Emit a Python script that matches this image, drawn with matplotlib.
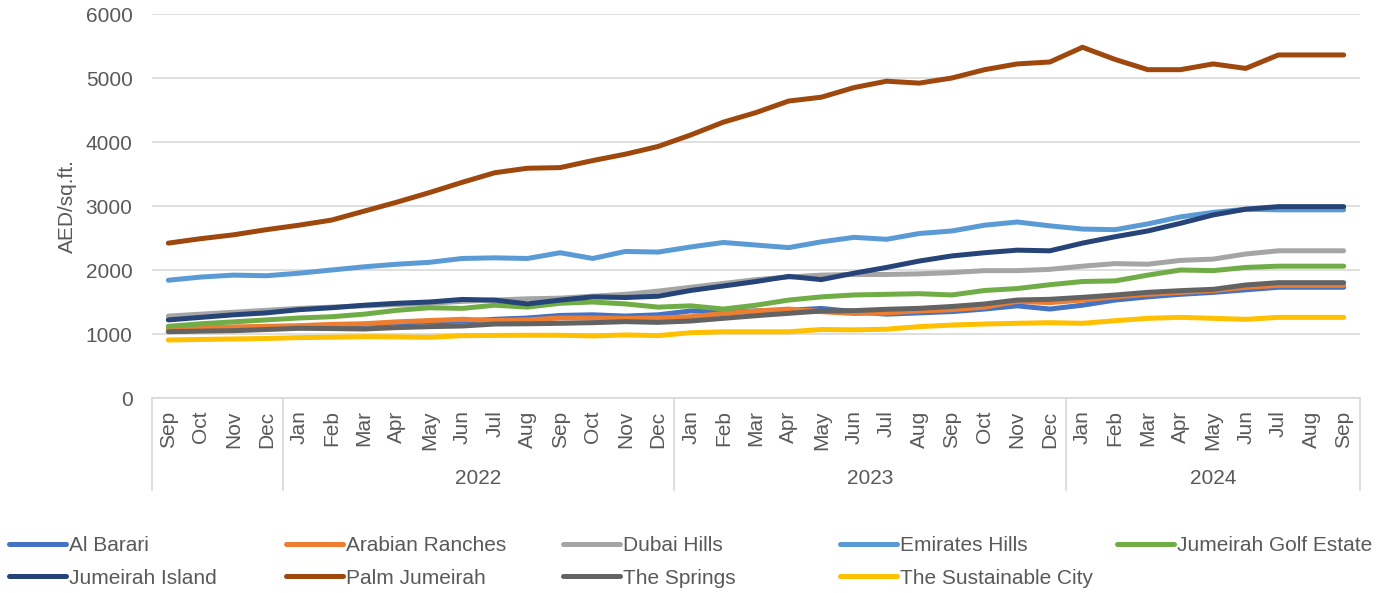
import matplotlib.pyplot as plt
from matplotlib.lines import Line2D
from matplotlib.transforms import blended_transform_factory

plt.rcParams['font.family'] = ['Liberation Sans', 'DejaVu Sans']

# months Sep 2021 .. Sep 2024
months = ['Sep', 'Oct', 'Nov', 'Dec'] + \
    ['Jan', 'Feb', 'Mar', 'Apr', 'May', 'Jun', 'Jul', 'Aug', 'Sep', 'Oct', 'Nov', 'Dec'] * 2 + \
    ['Jan', 'Feb', 'Mar', 'Apr', 'May', 'Jun', 'Jul', 'Aug', 'Sep']
years = ['', '2022', '2023', '2024']
year_sizes = [4, 12, 12, 9]

al_barari = [1040, 1060, 1080, 1100, 1110, 1130, 1150, 1170, 1190, 1200, 1230, 1250, 1290,
             1300, 1280, 1300, 1360, 1350, 1360, 1370, 1400, 1350, 1310, 1330, 1350,
             1390, 1440, 1390, 1450, 1530, 1580, 1620, 1650, 1690, 1730, 1730, 1730]
arabian_ranches = [1080, 1100, 1110, 1120, 1130, 1150, 1160, 1190, 1210, 1230, 1210, 1220, 1250,
                   1250, 1245, 1250, 1270, 1320, 1360, 1390, 1350, 1320, 1330, 1360, 1380,
                   1420, 1510, 1490, 1530, 1580, 1620, 1650, 1680, 1730, 1760, 1760, 1760]
dubai_hills = [1280, 1310, 1340, 1370, 1400, 1420, 1440, 1460, 1480, 1510, 1530, 1550, 1560,
               1590, 1620, 1670, 1730, 1790, 1850, 1890, 1920, 1930, 1930, 1940, 1960,
               1990, 1990, 2010, 2060, 2100, 2090, 2150, 2170, 2250, 2300, 2300, 2300]
emirates_hills = [1840, 1890, 1920, 1910, 1950, 2000, 2050, 2090, 2120, 2180, 2190, 2180, 2270,
                  2180, 2290, 2280, 2360, 2430, 2390, 2350, 2440, 2510, 2480, 2570, 2610,
                  2700, 2750, 2690, 2640, 2630, 2720, 2830, 2900, 2950, 2940, 2940, 2940]
golf_estate = [1120, 1160, 1190, 1220, 1250, 1270, 1310, 1370, 1410, 1400, 1450, 1420, 1480,
               1500, 1470, 1420, 1440, 1390, 1450, 1530, 1580, 1610, 1620, 1630, 1610,
               1680, 1710, 1770, 1820, 1830, 1920, 2000, 1990, 2040, 2060, 2060, 2060]
jumeirah_island = [1220, 1260, 1300, 1330, 1380, 1410, 1450, 1480, 1500, 1540, 1530, 1470, 1530,
                   1580, 1570, 1590, 1680, 1750, 1820, 1900, 1850, 1950, 2040, 2140, 2220,
                   2270, 2310, 2300, 2420, 2520, 2610, 2730, 2860, 2950, 2990, 2990, 2990]
palm_jumeirah = [2420, 2490, 2550, 2630, 2700, 2780, 2920, 3060, 3210, 3370, 3520, 3590, 3600,
                 3710, 3810, 3930, 4110, 4310, 4460, 4640, 4700, 4850, 4950, 4920, 5000,
                 5130, 5220, 5250, 5480, 5290, 5130, 5130, 5220, 5150, 5360, 5360, 5360]
the_springs = [1036, 1045, 1052, 1070, 1089, 1085, 1078, 1100, 1115, 1125, 1156, 1160, 1167,
               1177, 1193, 1182, 1203, 1245, 1286, 1323, 1359, 1365, 1386, 1401, 1430,
               1469, 1531, 1542, 1573, 1609, 1651, 1677, 1698, 1766, 1802, 1802, 1802]
sustainable_city = [906, 915, 922, 930, 943, 950, 958, 955, 948, 974, 978, 980, 980,
                    970, 985, 975, 1020, 1035, 1035, 1035, 1070, 1065, 1075, 1115, 1140,
                    1156, 1167, 1177, 1167, 1208, 1245, 1260, 1245, 1229, 1260, 1260, 1260]

names = ['Al Barari', 'Arabian Ranches', 'Dubai Hills', 'Emirates Hills', 'Jumeirah Golf Estate',
         'Jumeirah Island', 'Palm Jumeirah', 'The Springs', 'The Sustainable City']
series = [al_barari, arabian_ranches, dubai_hills, emirates_hills, golf_estate,
          jumeirah_island, palm_jumeirah, the_springs, sustainable_city]
colors = ['#4472C4', '#ED7D31', '#A5A5A5', '#5B9BD5', '#70AD47',
          '#264478', '#9E480E', '#636363', '#FFC000']

txt = '#595959'
grid = '#D9D9D9'
fs = 15
W, H = 1396, 593

fig = plt.figure(figsize=(W / 100, H / 100), dpi=100)
ax = fig.add_axes([152 / W, 1 - 398 / H, (1360 - 152) / W, (398 - 14) / H])

x = list(range(len(months)))
for vals, name, c in zip(series, names, colors):
    ax.plot(x, vals, color=c, lw=3.6, solid_capstyle='round', solid_joinstyle='round', label=name)

ax.set_xlim(-0.5, len(months) - 0.5)
ax.set_ylim(0, 6000)
ax.set_yticks(range(0, 6001, 1000))
ax.yaxis.grid(True, color=grid, lw=1.2)
ax.set_axisbelow(True)
for s in ['top', 'right', 'left']:
    ax.spines[s].set_visible(False)
ax.spines['bottom'].set_color(grid)
ax.spines['bottom'].set_linewidth(1.2)
ax.tick_params(axis='y', length=0, pad=14, labelsize=fs, labelcolor=txt)
ax.set_xticks(x)
ax.set_xticklabels(months, rotation=90)
ax.tick_params(axis='x', length=0, pad=9, labelsize=fs, labelcolor=txt)
ax.set_ylabel('AED/sq.ft.', fontsize=fs, color=txt, labelpad=6)

# year grouping under month labels
tr = blended_transform_factory(ax.transData, ax.transAxes)
depth = (490 - 398) / (398 - 14)
bounds = [-0.5]
for n in year_sizes:
    bounds.append(bounds[-1] + n)
for b in bounds:
    ax.plot([b, b], [0, -depth], transform=tr, color=grid, lw=1.2, clip_on=False)
for yr, a, b in zip(years, bounds[:-1], bounds[1:]):
    ax.text((a + b) / 2, -(478 - 398) / (398 - 14), yr, transform=tr,
            ha='center', va='center', fontsize=fs, color=txt)

# legend: 5 equally spaced columns, 2 rows
handles = [Line2D([], [], color=c, lw=3.6, solid_capstyle='round') for c in colors]
for col in range(5):
    idx = [i for i in (col, col + 5) if i < len(names)]
    leg = fig.legend([handles[i] for i in idx], [names[i] for i in idx],
                     loc='upper left', bbox_to_anchor=((9 + 277 * col) / W, 1 - 536 / H),
                     frameon=False, fontsize=fs, handlelength=2.75, handletextpad=0.15,
                     labelspacing=0.65, borderpad=0, borderaxespad=0)
    for t in leg.get_texts():
        t.set_color(txt)

fig.savefig('out.png', dpi=100)
